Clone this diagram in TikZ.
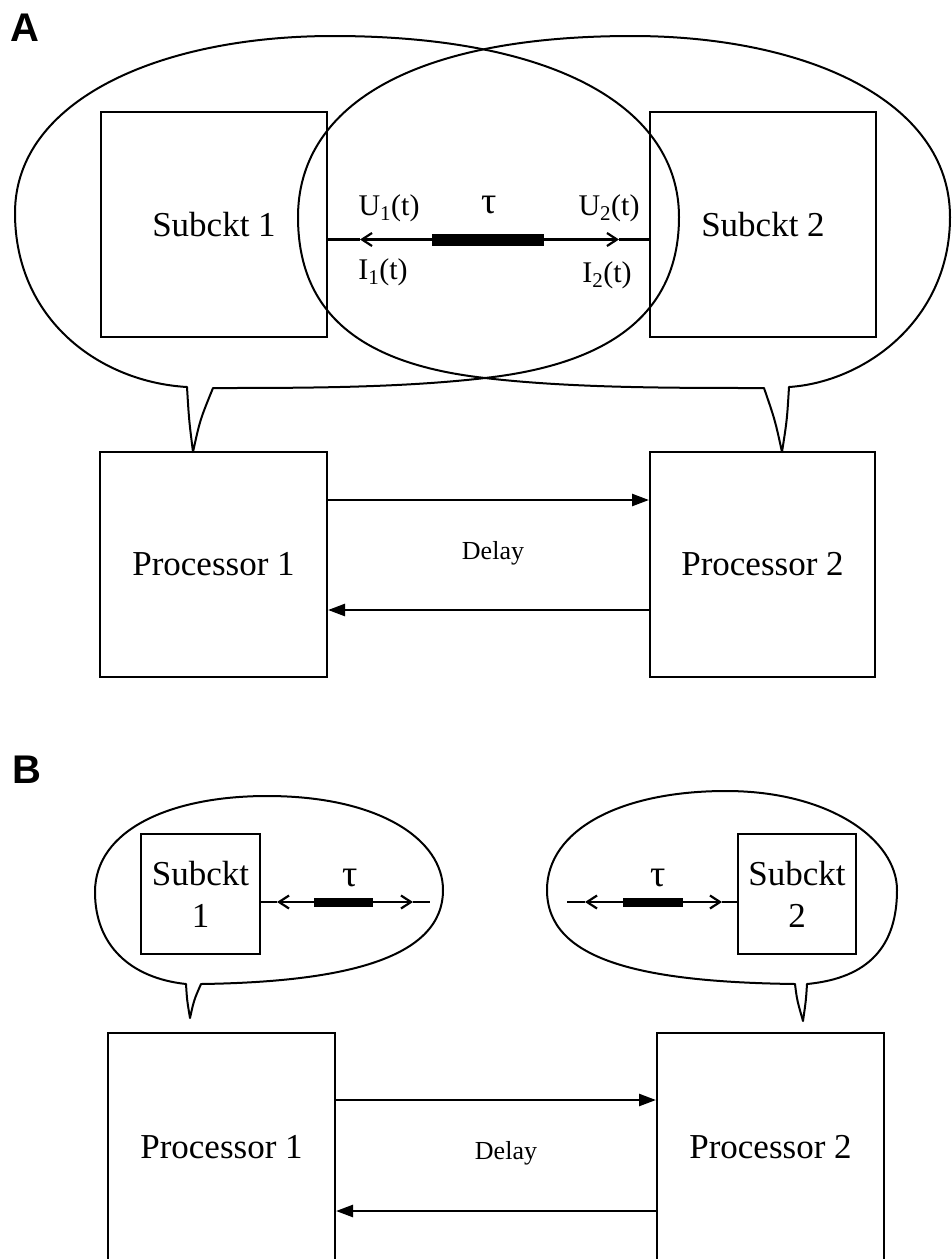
\documentclass[tikz,border=0pt]{standalone}
\usepackage{fontspec}
\setmainfont{Liberation Serif}
\newfontfamily\panelfont{Liberation Sans}
\usetikzlibrary{arrows.meta,positioning}

\begin{document}
\begin{tikzpicture}[x=1pt,y=-1pt,
 every node/.style={font=\fontsize{35}{42}\selectfont},
 box/.style={draw,line width=2pt,inner sep=0pt,align=center},
 bar/.style={fill=black,inner sep=0pt},
 lbl/.style={font=\fontsize{30}{36}\selectfont},
 taulbl/.style={font=\fontsize{38}{40}\selectfont},
 delaylbl/.style={font=\fontsize{26}{30}\selectfont},
 panel/.style={font=\panelfont\bfseries\fontsize{40}{44}\selectfont},
 bubble/.style={draw,line width=2pt,line join=round},
 flow/.style={-{Triangle[length=17pt,width=12pt]},line width=2.5pt},
 port/.style={-{Straight Barb[length=10pt,width=13pt]},line width=2.2pt},
 wire/.style={line width=2.2pt}]
\useasboundingbox (0,0) rectangle (952,1259);
\clip (0,0) rectangle (952,1259);

% panel A
\node[panel] (labA) at (25,28) {A};
\node[box,minimum width=226pt,minimum height=225pt] (sub1a) at (214,224.5) {Subckt 1};
\node[box,minimum width=226pt,minimum height=225pt] (sub2a) at (763,224.5) {Subckt 2};
\node[box,minimum width=227pt,minimum height=225pt] (proc1a) at (213.5,564.5) {Processor 1};
\node[box,minimum width=225pt,minimum height=225pt] (proc2a) at (762.5,564.5) {Processor 2};

\node[bar,minimum width=112pt,minimum height=12pt] (taua) at (488,239.5) {};
\coordinate (tip1a) at (360,239.5);
\coordinate (tip2a) at (619,239.5);
\draw[port] (taua.west) -- (tip1a); \draw[wire] (tip1a) -- (tip1a -| sub1a.east);
\draw[port] (taua.east) -- (tip2a); \draw[wire] (tip2a) -- (tip2a -| sub2a.west);
\node[taulbl] (taulbla) at (489,205) {τ};
\node[lbl] (u1a) at (389,208) {U\textsubscript{1}(t)};
\node[lbl] (i1a) at (383,272) {I\textsubscript{1}(t)};
\node[lbl] (u2a) at (609,208) {U\textsubscript{2}(t)};
\node[lbl] (i2a) at (607,275) {I\textsubscript{2}(t)};

\draw[bubble] (193,452) .. controls (189,420) .. (187,387)
 .. controls (100,382) and (15,320) .. (15,213)
 .. controls (15,100) and (160,36) .. (333,36)
 .. controls (560,36) and (679,110) .. (679,217)
 .. controls (679,320) and (600,365) .. (485,378)
 .. controls (400,388) and (300,388) .. (213,388)
 .. controls (200,420) .. (193,452) -- cycle;
\draw[bubble] (782,452) .. controls (787,420) .. (789,387)
 .. controls (865,382) and (950,320) .. (950,217)
 .. controls (950,100) and (805,36) .. (632,36)
 .. controls (405,36) and (298,110) .. (298,217)
 .. controls (298,320) and (370,365) .. (485,378)
 .. controls (570,388) and (670,388) .. (764,388)
 .. controls (775,420) .. (782,452) -- cycle;

\draw[flow] ([yshift=-49pt]proc1a.north east) -- ([yshift=-49pt]proc2a.north west);
\draw[flow] ([yshift=-159pt]proc2a.north west) -- ([yshift=-159pt]proc1a.north east);
\node[delaylbl] (delaya) at (493,553) {Delay};

% panel B
\node[panel] (labB) at (27,770) {B};
\node[box,minimum width=119pt,minimum height=120pt] (sub1b) at (200.5,894) {Subckt\\1};
\node[box,minimum width=118pt,minimum height=120pt] (sub2b) at (797,894) {Subckt\\2};
\node[box,minimum width=227pt,minimum height=228pt] (proc1b) at (221.5,1147) {Processor 1};
\node[box,minimum width=227pt,minimum height=228pt] (proc2b) at (770.5,1147) {Processor 2};

\node[bar,minimum width=59pt,minimum height=9pt] (taub1) at (343.5,902) {};
\coordinate (tip1b) at (277,902);
\coordinate (tip2b) at (413,902);
\coordinate (end1b) at (430,902);
\draw[port] (taub1.west) -- (tip1b); \draw[wire] (tip1b) -- (tip1b -| sub1b.east);
\draw[port] (taub1.east) -- (tip2b); \draw[wire] (tip2b) -- (end1b);
\node[taulbl] (taulblb1) at (350,878) {τ};

\node[bar,minimum width=60pt,minimum height=9pt] (taub2) at (653,902) {};
\coordinate (tip3b) at (585,902);
\coordinate (tip4b) at (722,902);
\coordinate (end2b) at (567,902);
\draw[port] (taub2.west) -- (tip3b); \draw[wire] (tip3b) -- (end2b);
\draw[port] (taub2.east) -- (tip4b); \draw[wire] (tip4b) -- (tip4b -| sub2b.west);
\node[taulbl] (taulblb2) at (658,878) {τ};

\draw[bubble] (190,1018) .. controls (187,1000) .. (186,984)
 .. controls (130,978) and (95,945) .. (95,892)
 .. controls (95,830) and (170,796) .. (267,796)
 .. controls (380,796) and (443,840) .. (443,890)
 .. controls (443,960) and (340,982) .. (201,984)
 .. controls (194,1000) .. (190,1018) -- cycle;
\draw[bubble] (803,1021) .. controls (797,1000) .. (795,984)
 .. controls (640,982) and (547,960) .. (547,890)
 .. controls (547,830) and (620,791) .. (726,791)
 .. controls (830,791) and (897,840) .. (897,890)
 .. controls (897,945) and (870,978) .. (807,984)
 .. controls (806,1000) .. (803,1021) -- cycle;

\draw[flow] ([yshift=-68pt]proc1b.north east) -- ([yshift=-68pt]proc2b.north west);
\draw[flow] ([yshift=-179pt]proc2b.north west) -- ([yshift=-179pt]proc1b.north east);
\node[delaylbl] (delayb) at (506,1153) {Delay};
\end{tikzpicture}
\end{document}
